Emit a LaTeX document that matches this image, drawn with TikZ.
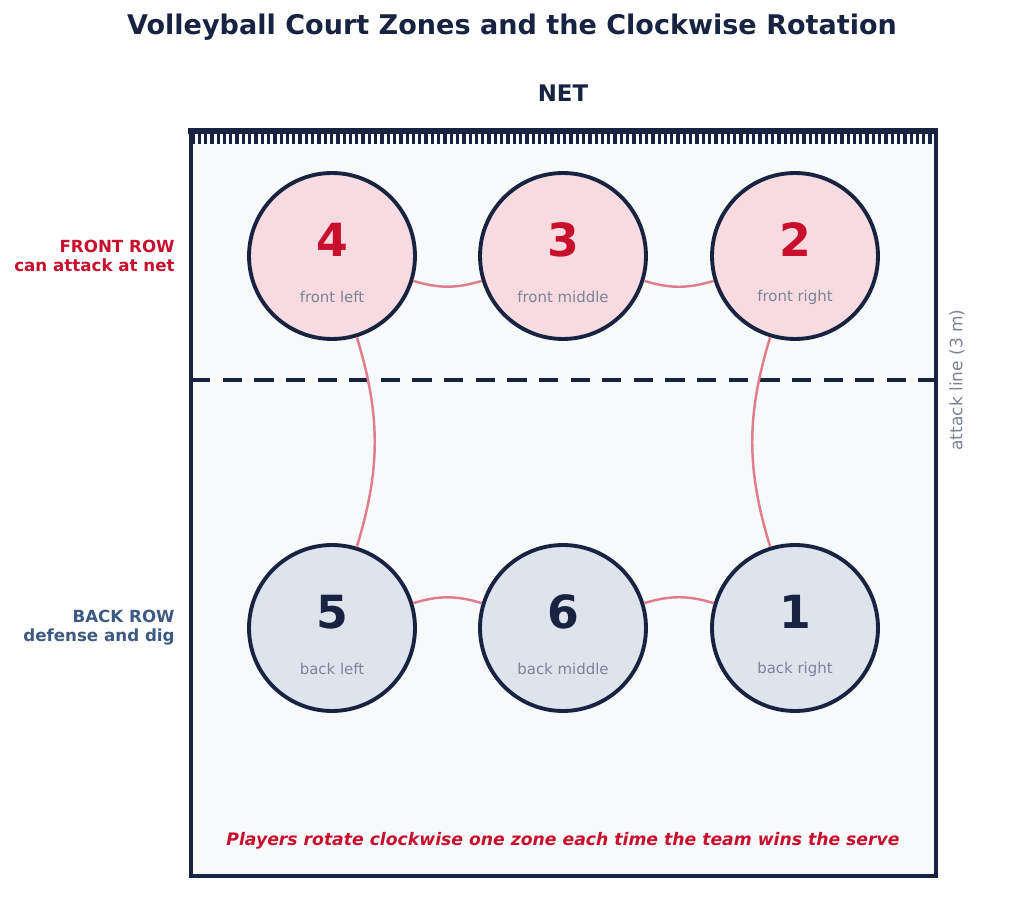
\documentclass[tikz,border=0pt]{standalone}
\usepackage{fontspec}
\setmainfont{DejaVu Sans}
\usepackage{xcolor}
\usepackage{tikz}

\definecolor{navy}{HTML}{172340}
\definecolor{courtred}{HTML}{C8102E}
\definecolor{slate}{HTML}{3D5A80}
\definecolor{softgray}{HTML}{7A8494}
\definecolor{frontfill}{HTML}{F8DBE0}
\definecolor{backfill}{HTML}{DDE4EE}
\definecolor{courtfill}{HTML}{F7F9FB}
\definecolor{rotline}{HTML}{E07D8D}

\tikzset{
  zone/.style={circle, draw=navy, line width=2.2pt, minimum size=3.32cm, inner sep=0pt},
  zonenum/.style={font=\bfseries\fontsize{26}{30}\selectfont},
  zonename/.style={text=softgray, font=\fontsize{8.5}{10}\selectfont},
  rowlabel/.style={anchor=east, align=right, inner sep=0pt, font=\bfseries\fontsize{9.5}{10.8}\selectfont},
  rotation/.style={draw=rotline, line width=1.4pt}
}

\begin{document}
\begin{tikzpicture}[x=0.02cm, y=0.02cm, >=stealth]
  \useasboundingbox (0,0) rectangle (1024,907);
  \node[text=navy, font=\bfseries\fontsize{15.4}{18}\selectfont] (title) at (512,880) {Volleyball Court Zones and the Clockwise Rotation};
  \node[text=navy, font=\bfseries\fontsize{13}{16}\selectfont] (net) at (563,814) {NET};
  % court and net
  \draw[navy, line width=2.6pt, fill=courtfill] (191,31) rectangle (936,776);
  \draw[navy, line width=3.6pt] (188,776) -- (938,776);
  \foreach \i in {0,...,118}
    \draw[navy, line width=1.9pt] (193+6.3*\i,776) -- (193+6.3*\i,763);
  \draw[navy, line width=1.9pt, dash pattern=on 11pt off 7pt] (191,527) -- (936,527);
  \node[rotate=90, text=softgray, font=\fontsize{9.7}{12}\selectfont] (attack) at (957,527) {attack line (3 m)};
  % zones
  \foreach \n/\x/\y/\f/\c/\t in {4/332/651/frontfill/courtred/front left, 3/563/651/frontfill/courtred/front middle, 2/795/651/frontfill/courtred/front right,
                                5/332/279/backfill/navy/back left, 6/563/279/backfill/navy/back middle, 1/795/279/backfill/navy/back right} {
    \node[zone, fill=\f] (z\n) at (\x,\y) {};
    \node[zonenum, text=\c] (num\n) at (\x,\y+16) {\n};
    \node[zonename] (name\n) at (\x,\y-41) {\t};
  }
  \draw[rotation] (z4) to[bend right=17] (z3);
  \draw[rotation] (z3) to[bend right=17] (z2);
  \draw[rotation] (z2) to[bend right=17] (z1);
  \draw[rotation] (z1) to[bend right=17] (z6);
  \draw[rotation] (z6) to[bend right=17] (z5);
  \draw[rotation] (z5) to[bend right=17] (z4);
  % row labels
  \node[rowlabel, text=courtred] (frontrow) at (175,651.5) {FRONT ROW\\can attack at net};
  \node[rowlabel, text=slate] (backrow) at (175,279.5) {BACK ROW\\defense and dig};
  \node[text=courtred, font=\bfseries\itshape\fontsize{9.8}{12}\selectfont] (caption) at (563,66) {Players rotate clockwise one zone each time the team wins the serve};
\end{tikzpicture}
\end{document}
